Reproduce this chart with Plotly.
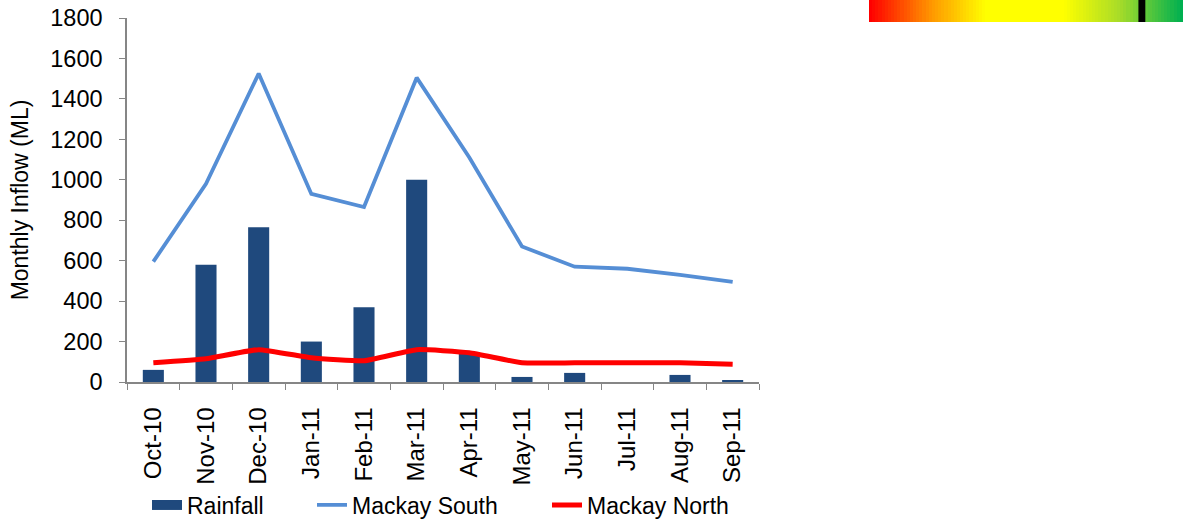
"""Monthly inflow chart: rainfall bars with Mackay South / North lines."""

import plotly.graph_objects as go

months = ["Oct-10", "Nov-10", "Dec-10", "Jan-11", "Feb-11", "Mar-11",
          "Apr-11", "May-11", "Jun-11", "Jul-11", "Aug-11", "Sep-11"]
rainfall = [60, 580, 765, 200, 370, 1000, 140, 25, 45, 0, 35, 5]
mackay_south = [595, 980, 1525, 930, 865, 1505, 1110, 670, 570, 560, 530, 495]
mackay_north = [95, 115, 160, 120, 105, 160, 145, 95, 95, 95, 95, 88]

# decorative gradient strip in the top right corner
strip_values = [list(range(100))]

FONT = "Liberation Sans, Arial, sans-serif"
AXIS_GREY = "#868686"
W, H = 1183, 519
LEFT = 127
PLOT_W = W - LEFT


def legend_at(px):
    # legend box positioned so its text starts 40px after px
    return dict(orientation="h", x=(px - LEFT) / PLOT_W, y=14 / H,
                xanchor="left", yanchor="middle", font=dict(size=23),
                bgcolor="rgba(0,0,0,0)", borderwidth=0)


fig = go.Figure()

fig.add_trace(go.Bar(x=months, y=rainfall, name="Rainfall", showlegend=False,
                     marker=dict(color="#1F497D", line=dict(width=0))))
# legend entry drawn as a wide block like the original
fig.add_trace(go.Scatter(x=[None], y=[None], name="Rainfall", mode="lines",
                         line=dict(color="#1F497D", width=12), legend="legend"))
fig.add_trace(go.Scatter(x=months, y=mackay_south, name="Mackay South",
                         mode="lines", line=dict(color="#558ED5", width=3.8),
                         legend="legend2"))
fig.add_trace(go.Scatter(x=months, y=mackay_north, name="Mackay North",
                         mode="lines", line=dict(color="#FF0000", width=5,
                                                 shape="spline", smoothing=0.4),
                         legend="legend3"))

fig.add_trace(go.Heatmap(
    z=strip_values, xaxis="x2", yaxis="y2", showscale=False, hoverinfo="skip",
    colorscale=[[0.0, "#FF0000"], [0.2, "#FF9A00"], [0.37, "#FFFF00"],
                [0.62, "#FFFF00"], [0.8, "#A8DC28"], [1.0, "#00B050"]],
))

fig.update_layout(
    width=W, height=H,
    margin=dict(l=LEFT, r=0, t=0, b=0, autoexpand=False),
    paper_bgcolor="white", plot_bgcolor="white",
    font=dict(family=FONT, size=23, color="black"),
    bargap=0.6,
    showlegend=True,
    legend=legend_at(147),
    legend2=legend_at(312),
    legend3=legend_at(547),
    xaxis=dict(
        type="category", tickangle=-90, showgrid=False, automargin=False,
        domain=[0, 632 / PLOT_W], anchor="y",
        showline=True, linecolor=AXIS_GREY, linewidth=1.5,
        ticks="outside", tickson="boundaries", ticklen=6, tickcolor=AXIS_GREY,
        ticklabelstandoff=14, tickfont=dict(size=24), range=[-0.5, 11.5],
    ),
    yaxis=dict(
        title=dict(text="Monthly Inflow (ML)", font=dict(size=23), standoff=15),
        range=[0, 1800], dtick=200, showgrid=False, automargin=False,
        domain=[137 / H, 1 - 18 / H], anchor="x",
        showline=True, linecolor=AXIS_GREY, linewidth=1.5,
        ticks="outside", ticklen=6, tickcolor=AXIS_GREY,
        ticklabelstandoff=12, tickfont=dict(size=23.5), zeroline=False,
    ),
    xaxis2=dict(domain=[(869 - LEFT) / PLOT_W, 1.0], anchor="y2", visible=False,
                range=[-0.5, 99.5]),
    yaxis2=dict(domain=[1 - 22 / H, 1.0], anchor="x2", visible=False,
                range=[-0.5, 0.5]),
)

# the black marker inside the strip
fig.add_shape(type="rect", xref="x2", yref="y2", x0=85.3, x1=87.5, y0=-0.5, y1=0.5,
              fillcolor="black", line=dict(width=0))

# drop the browser's default page margin so the figure sits at the corner
fig.write_html("out.html", config={"displayModeBar": False},
               post_script="document.body.style.margin='0';")
